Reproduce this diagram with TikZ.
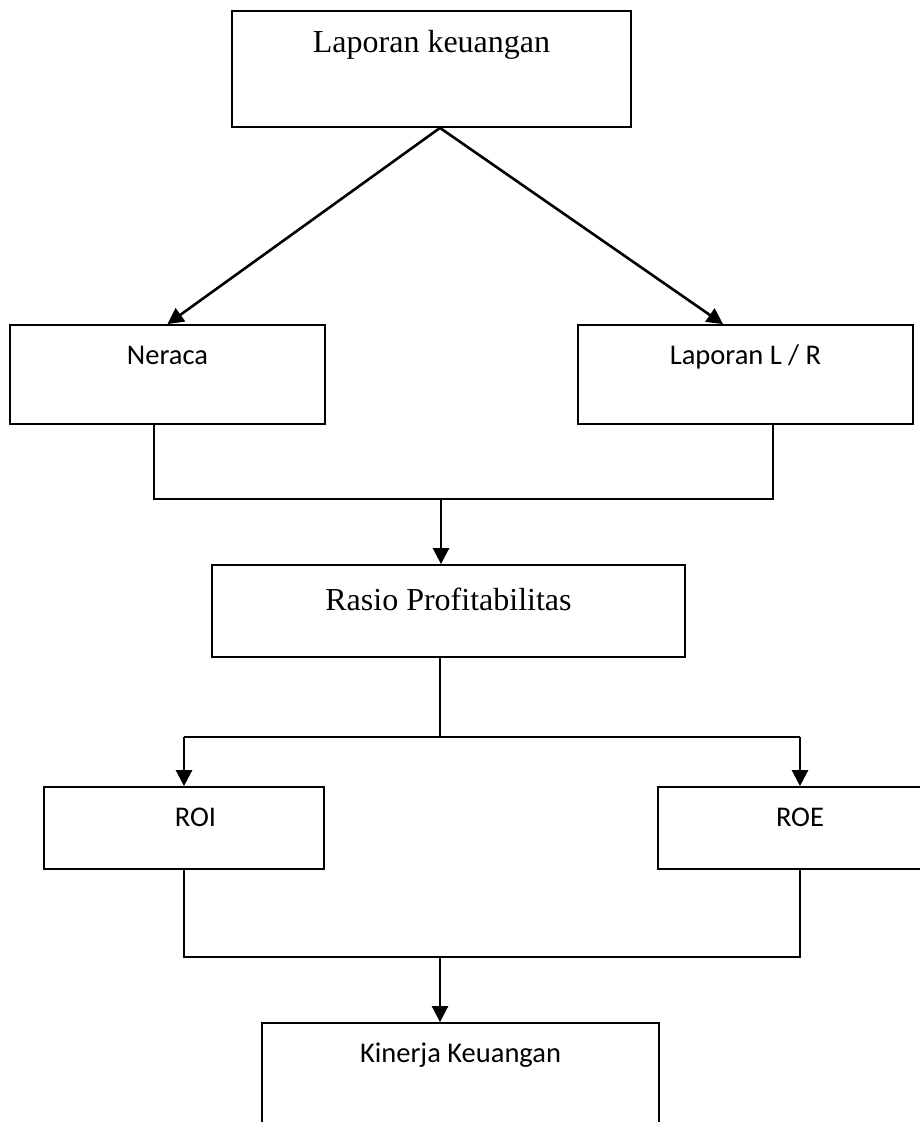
\documentclass[tikz,border=0pt]{standalone}
\usepackage{fontspec}
\setmainfont{Liberation Serif}
\newfontfamily\calibri{Carlito}
\usetikzlibrary{arrows.meta}

\tikzset{
    box/.style={draw, rectangle, line width=1.8pt, inner sep=0pt},
    serif/.style={font=\fontsize{32}{38}\selectfont},
    sans/.style={font=\calibri\fontsize{28.5}{34}\selectfont},
    line/.style={line width=1.8pt},
    arr/.style={line width=2.6pt, -{Triangle[length=16pt,width=16pt]}},
}

\begin{document}
\begin{tikzpicture}[x=1pt, y=-1pt]
    \useasboundingbox (0,0) rectangle (920,1122);
    \clip (0,0) rectangle (920,1122);
    \node[box, serif, minimum width=399pt, text height=41pt, text depth=75pt] (LK) at (431.5,69) {Laporan keuangan};
    \node[box, sans, minimum width=315pt, text height=39pt, text depth=60pt] (NR) at (167.5,374.5) {Neraca};
    \node[box, sans, minimum width=335pt, text height=39pt, text depth=60pt] (LR) at (745.5,374.5) {Laporan L / R};
    \node[box, serif, minimum width=473pt, text height=45pt, text depth=47pt] (RP) at (448.5,611) {Rasio Profitabilitas};
    \node[box, sans, minimum width=280pt, text height=39pt, text depth=43pt] (ROI) at (184,828) {\hspace*{23pt}ROI};
    \node[box, sans, minimum width=284pt, text height=39pt, text depth=43pt] (ROE) at (800,828) {ROE};
    \node[box, sans, minimum width=397pt, text height=39pt, text depth=101pt] (KK) at (460.5,1093) {Kinerja Keuangan};
    % junctions
    \coordinate (J1) at (441,499);
    \coordinate (J2) at (440,737);
    \coordinate (J3) at (440,957);
    \draw[arr] ([xshift=8.5pt]LK.south) -- (NR.north);
    \draw[arr] ([xshift=8.5pt]LK.south) -- ([xshift=-22.5pt]LR.north);
    \draw[line] ([xshift=-13.5pt]NR.south) |- (J1) -| ([xshift=27.5pt]LR.south);
    \draw[arr] (J1) -- (J1 |- RP.north);
    \draw[line] (J2 |- RP.south) -- (J2);
    \draw[line] (ROI.north |- J2) -- (ROE.north |- J2);
    \draw[arr] (ROI.north |- J2) -- (ROI.north);
    \draw[arr] (ROE.north |- J2) -- (ROE.north);
    \draw[line] (ROI.south) |- (J3) -| (ROE.south);
    \draw[arr] (J3) -- (J3 |- KK.north);
\end{tikzpicture}
\end{document}
